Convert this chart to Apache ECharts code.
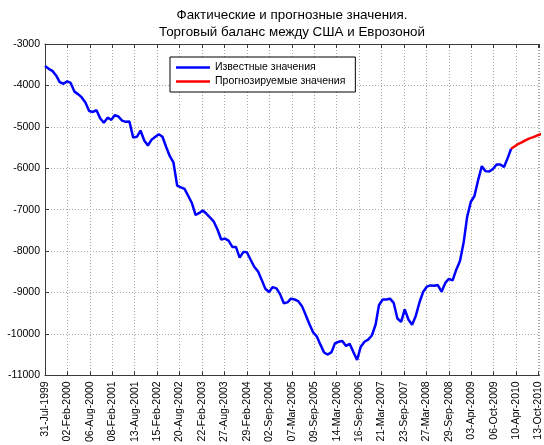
<!DOCTYPE html>
<html>
<head>
<meta charset="utf-8">
<script src="https://cdn.jsdelivr.net/npm/echarts@6/dist/echarts.min.js"></script>
<style>
html,body{margin:0;padding:0;background:#fff;}
#chart{width:544px;height:445px;}
</style>
</head>
<body>
<div id="chart"></div>
<script>
// Monthly series, first value = July 1999 (month-end)
const startYear = 1999;
const startMonth = 7;
const knownValues = [
  -3530, -3600, -3650, -3760, -3920, -3960, -3900, -3940, -4150, -4210,
  -4290, -4410, -4620, -4640, -4600, -4800, -4900, -4780, -4830, -4720,
  -4750, -4850, -4880, -4870, -5260, -5240, -5090, -5330, -5450, -5310,
  -5240, -5180, -5240, -5480, -5710, -5860, -6420, -6460, -6500, -6670,
  -6840, -7130, -7080, -7020, -7100, -7190, -7290, -7480, -7720, -7700,
  -7750, -7900, -7900, -8160, -8020, -8030, -8210, -8380, -8490, -8690,
  -8910, -8990, -8870, -8900, -9040, -9260, -9240, -9150, -9170, -9210,
  -9330, -9540, -9760, -9960, -10060, -10260, -10450, -10500, -10440, -10230,
  -10190, -10170, -10290, -10240, -10440, -10630, -10310, -10190, -10140, -10040,
  -9780, -9310, -9170, -9170, -9150, -9250, -9630, -9710, -9410, -9660,
  -9780, -9560, -9230, -8990, -8860, -8830, -8840, -8820, -8980, -8770,
  -8670, -8710, -8450, -8240, -7780, -7180, -6810, -6670, -6280, -5950,
  -6070, -6080, -6020, -5910, -5910, -5970, -5750, -5530
];
// forecast starts at the month of the last known value
const forecastValues = [-5530, -5470, -5410, -5370, -5320, -5280, -5250, -5210, -5180, -5150, -5120];

const tickLabels = [
  '31-Jul-1999', '02-Feb-2000', '06-Aug-2000', '08-Feb-2001', '13-Aug-2001',
  '15-Feb-2002', '20-Aug-2002', '22-Feb-2003', '27-Aug-2003', '29-Feb-2004',
  '02-Sep-2004', '07-Mar-2005', '09-Sep-2005', '14-Mar-2006', '16-Sep-2006',
  '21-Mar-2007', '23-Sep-2007', '27-Mar-2008', '29-Sep-2008', '03-Apr-2009',
  '06-Oct-2009', '10-Apr-2010', '13-Oct-2010'
];
const tickStepDays = 186;
const yTicks = [-11000, -10000, -9000, -8000, -7000, -6000, -5000, -4000, -3000];

const titleLines = ['Фактические и прогнозные значения.', 'Торговый баланс между США и Еврозоной'];
const legendNames = ['Известные значения', 'Прогнозируемые значения'];

// day offset of a month-end relative to the first month-end
const t0 = Date.UTC(startYear, startMonth, 0);
function dayOf(k) { return (Date.UTC(startYear, startMonth + k, 0) - t0) / 86400000; }
const knownData = knownValues.map((v, k) => [dayOf(k), v]);
const fStart = knownValues.length - 1;
const forecastData = forecastValues.map((v, k) => [dayOf(fStart + k), v]);

const FONT = '"Liberation Sans", Arial, sans-serif';
const gridLine = { show: true, lineStyle: { color: '#a8a8a8', type: [1, 2], width: 1 } };
const axisLineStyle = { show: true, lineStyle: { color: '#3a3a3a', width: 1 } };
const tickStyle = { show: true, inside: true, length: 4, lineStyle: { color: '#3a3a3a' } };

const chart = echarts.init(document.getElementById('chart'), null, { renderer: 'canvas' });
chart.setOption({
  backgroundColor: '#ffffff',
  animation: false,
  title: {
    text: titleLines.join('\n'),
    left: 292,
    top: 7,
    textAlign: 'center',
    padding: 0,
    textStyle: { fontFamily: FONT, fontSize: 13.4, fontWeight: 'normal', color: '#000', lineHeight: 17 }
  },
  legend: {
    orient: 'vertical',
    left: 170,
    top: 57,
    data: legendNames,
    icon: 'rect',
    itemWidth: 34,
    itemHeight: 2.5,
    itemGap: 3,
    padding: [5, 10, 5, 6],
    backgroundColor: '#ffffff',
    borderColor: '#000000',
    borderWidth: 1,
    borderRadius: 0,
    textStyle: { fontFamily: FONT, fontSize: 10.5, color: '#000' }
  },
  grid: { left: 45, right: 0, top: 44, bottom: 62 },
  xAxis: [{
    type: 'value',
    position: 'bottom',
    min: 0,
    max: 4100,
    interval: tickStepDays,
    axisLine: axisLineStyle,
    axisTick: tickStyle,
    splitLine: gridLine,
    axisLabel: {
      rotate: 90,
      margin: 6,
      fontFamily: FONT,
      fontSize: 10.5,
      color: '#000',
      showMaxLabel: false,
      formatter: function (v) {
        const i = Math.round(v / tickStepDays);
        return (Math.abs(v - i * tickStepDays) < 1e-6 && i < tickLabels.length) ? tickLabels[i] : '';
      }
    }
  }, {
    type: 'value',
    position: 'top',
    min: 0,
    max: 4100,
    interval: tickStepDays,
    axisLine: axisLineStyle,
    axisTick: tickStyle,
    splitLine: { show: false },
    axisLabel: { show: false }
  }],
  yAxis: {
    type: 'value',
    min: yTicks[0],
    max: yTicks[yTicks.length - 1],
    interval: 1000,
    axisLine: axisLineStyle,
    axisTick: tickStyle,
    splitLine: gridLine,
    axisLabel: {
      margin: 5, fontFamily: FONT, fontSize: 10.5, color: '#000',
      formatter: function (v) { return String(v); }
    }
  },
  series: [{
    name: legendNames[0],
    type: 'line',
    xAxisIndex: 0,
    data: knownData,
    showSymbol: false,
    symbol: 'none',
    color: '#0000ff',
    lineStyle: { color: '#0000ff', width: 2.5 },
    z: 3
  }, {
    name: legendNames[1],
    type: 'line',
    xAxisIndex: 0,
    data: forecastData,
    showSymbol: false,
    symbol: 'none',
    color: '#ff0000',
    lineStyle: { color: '#ff0000', width: 2.5 },
    z: 3
  }]
});
</script>
</body>
</html>
